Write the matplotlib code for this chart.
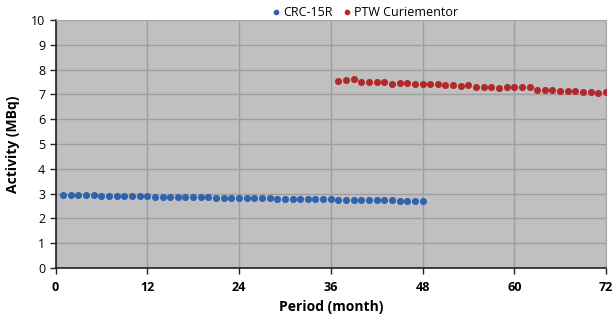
import matplotlib
matplotlib.use("Agg")
import matplotlib.pyplot as plt

crc_months = list(range(1, 49))
crc_values = [2.95, 2.94, 2.94, 2.93, 2.93, 2.92, 2.92, 2.91, 2.91, 2.90,
              2.89, 2.89, 2.88, 2.88, 2.87, 2.87, 2.86, 2.86, 2.85, 2.85,
              2.84, 2.84, 2.83, 2.83, 2.82, 2.82, 2.81, 2.81, 2.80, 2.80,
              2.79, 2.79, 2.78, 2.78, 2.77, 2.77, 2.76, 2.76, 2.75, 2.75,
              2.74, 2.74, 2.73, 2.73, 2.72, 2.71, 2.70, 2.70]
ptw_months = list(range(37, 73))
ptw_values = [7.55, 7.57, 7.62, 7.50, 7.50, 7.48, 7.48, 7.41, 7.44, 7.44,
              7.43, 7.42, 7.42, 7.40, 7.38, 7.36, 7.32, 7.36, 7.30, 7.31,
              7.31, 7.25, 7.28, 7.28, 7.28, 7.29, 7.18, 7.19, 7.19, 7.15,
              7.14, 7.12, 7.11, 7.08, 7.07, 7.08]
x_ticks = [0, 12, 24, 36, 48, 60, 72]
y_ticks = list(range(0, 11))

plt.rcParams['font.family'] = ['Open Sans', 'DejaVu Sans']

fig = plt.figure(figsize=(6.14, 3.21), dpi=100)
ax = fig.add_axes([0.0904, 0.165, 0.8966, 0.773])
ax.set_facecolor('#c0c0c0')

ax.scatter(crc_months, crc_values, s=26, color='#2f63ae', label='CRC-15R', zorder=3, linewidths=0)
ax.scatter(ptw_months, ptw_values, s=26, color='#b3282d', label='PTW Curiementor', zorder=3, linewidths=0)

ax.set_xlim(0, 72)
ax.set_ylim(0, 10)
ax.set_xticks(x_ticks)
ax.set_yticks(y_ticks)
ax.grid(True, color='#9e9e9e', linewidth=1.0)
ax.set_axisbelow(True)

for s in ['top', 'right']:
    ax.spines[s].set_color('#a8a8a8')
for s in ['left', 'bottom']:
    ax.spines[s].set_color('#222222')
    ax.spines[s].set_linewidth(1.2)

ax.tick_params(axis='both', length=4, width=1, color='#222222', labelsize=9)
for lbl in ax.get_xticklabels():
    lbl.set_fontweight('bold')
ax.tick_params(axis='x', pad=5)

ax.set_xlabel('Period (month)', fontsize=10, fontweight='bold', labelpad=5)
ax.set_ylabel('Activity (MBq)', fontsize=10, fontweight='bold', labelpad=8)

leg = ax.legend(loc='lower center', bbox_to_anchor=(0.563, 0.985), ncol=2, frameon=False,
                fontsize=9, handletextpad=0.3, handlelength=0.6, columnspacing=0.8,
                markerscale=0.8, borderaxespad=0)

fig.savefig('out.png', dpi=100)
